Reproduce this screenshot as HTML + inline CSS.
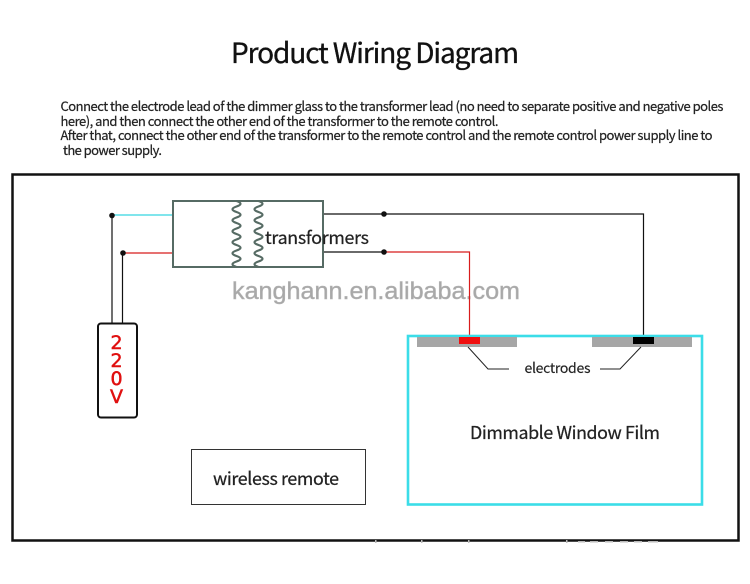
<!DOCTYPE html>
<html><head><meta charset="utf-8">
<style>
html,body{margin:0;padding:0;background:#fff;}
body{width:750px;height:584px;overflow:hidden;}
svg{display:block;}
text{font-family:"Noto Sans CJK SC","Liberation Sans",sans-serif;}
</style></head>
<body>
<svg width="750" height="584" viewBox="0 0 750 584" xmlns="http://www.w3.org/2000/svg">
<rect width="750" height="584" fill="#fff"/>
<text x="231" y="63" font-size="28" fill="#111" stroke="#111" stroke-width=".35" textLength="288" lengthAdjust="spacing">Product Wiring Diagram</text>
<g font-size="13" fill="#222" stroke="#222" stroke-width=".22">
<text x="60.500" y="111" textLength="663" lengthAdjust="spacing">Connect the electrode lead of the dimmer glass to the transformer lead (no need to separate positive and negative poles</text>
<text x="60.500" y="126" textLength="438" lengthAdjust="spacing">here), and then connect the other end of the transformer to the remote control.</text>
<text x="60.500" y="140" textLength="652" lengthAdjust="spacing">After that, connect the other end of the transformer to the remote control and the remote control power supply line to</text>
<text x="63" y="155" textLength="99" lengthAdjust="spacing">the power supply.</text>
</g>
<text x="232" y="299" font-size="24" fill="#a8a8a8" stroke="#b4b4b4" stroke-width=".5" style="font-family:'Liberation Sans',sans-serif" textLength="288" lengthAdjust="spacingAndGlyphs">kanghann.en.alibaba.com</text>
<rect x="12.500" y="174.500" width="726" height="366" fill="none" stroke="#111" stroke-width="2.500"/>
<g fill="none" stroke-width="1.200">
<path d="M112 215H173" stroke="#35d5e0"/>
<path d="M123 253H173" stroke="#d81c1c"/>
<path d="M112 215V323M122.500 253V323" stroke="#111"/>
<path d="M323 214H643.500V336" stroke="#111"/>
<path d="M323 252H384" stroke="#111"/>
<path d="M384 252H469.500V337" stroke="#d81c1c"/>
</g>
<rect x="173" y="201" width="150" height="66" fill="#fff" stroke="#566b64" stroke-width="2"/>
<g fill="none" stroke="#566b64" stroke-width="2.200">
<path d="M236.500 201q8 2.750 0 5.500t0 5.500t0 5.500t0 5.500t0 5.500t0 5.500t0 5.500t0 5.500t0 5.500t0 5.500t0 5.500t0 5.500"/>
<path d="M258.500 201q8 2.750 0 5.500t0 5.500t0 5.500t0 5.500t0 5.500t0 5.500t0 5.500t0 5.500t0 5.500t0 5.500t0 5.500t0 5.500"/>
</g>
<g fill="#111">
<circle cx="112" cy="215.500" r="2.800"/>
<circle cx="123" cy="253" r="2.800"/>
<circle cx="384" cy="214" r="2.800"/>
<circle cx="384" cy="252" r="2.800"/>
</g>
<text x="265" y="244" font-size="17.800" fill="#222" stroke="#222" stroke-width=".25" textLength="104" lengthAdjust="spacing">transformers</text>
<rect x="98" y="323.500" width="39" height="94" rx="3" fill="#fff" stroke="#111" stroke-width="2"/>
<g font-size="19" fill="#e01010" stroke="#e01010" stroke-width=".5" text-anchor="middle">
<text x="116.500" y="349" style="font-family:'DejaVu Sans',sans-serif">2</text>
<text x="116.500" y="367" style="font-family:'DejaVu Sans',sans-serif">2</text>
<text x="116.500" y="385" style="font-family:'DejaVu Sans',sans-serif">0</text>
<text x="116.500" y="403" style="font-family:'DejaVu Sans',sans-serif">V</text>
</g>
<rect x="408" y="336" width="294" height="168.500" fill="#fff" stroke="#3bdde8" stroke-width="2.600"/>
<rect x="417" y="337" width="100" height="10" fill="#a6a6a6"/>
<rect x="592" y="337" width="100" height="10" fill="#a6a6a6"/>
<rect x="459" y="337" width="21" height="7" fill="#f00f0f"/>
<rect x="633" y="337" width="21" height="7" fill="#000"/>
<g fill="none" stroke="#222" stroke-width="1">
<path d="M468 347L488 369H509"/>
<path d="M641 347L620 369H600"/>
</g>
<text x="524.500" y="373" font-size="14" fill="#222" stroke="#222" stroke-width=".15" textLength="66" lengthAdjust="spacing">electrodes</text>
<text x="470" y="439" font-size="17.800" fill="#222" stroke="#222" stroke-width=".25" textLength="190" lengthAdjust="spacing">Dimmable Window Film</text>
<rect x="191.500" y="449.500" width="174" height="55" fill="#fff" stroke="#333" stroke-width="1"/>
<text x="213" y="485" font-size="17.800" fill="#222" stroke="#222" stroke-width=".25" textLength="126" lengthAdjust="spacing">wireless remote</text>
<g fill="#bbb">
<rect x="375" y="540" width="1.500" height="3"/>
<rect x="421" y="540" width="1.500" height="3"/>
<rect x="468" y="540" width="1.500" height="3"/>
<rect x="566" y="540" width="1.500" height="3"/>
<rect x="578" y="541" width="7" height="1.500"/>
<rect x="590" y="541" width="8" height="1.500"/>
<rect x="605" y="541" width="8" height="1.500"/>
<rect x="620" y="541" width="8" height="1.500"/>
<rect x="634" y="541" width="8" height="1.500"/>
<rect x="648" y="541" width="10" height="1.500"/>
</g>
</svg>
</body></html>
